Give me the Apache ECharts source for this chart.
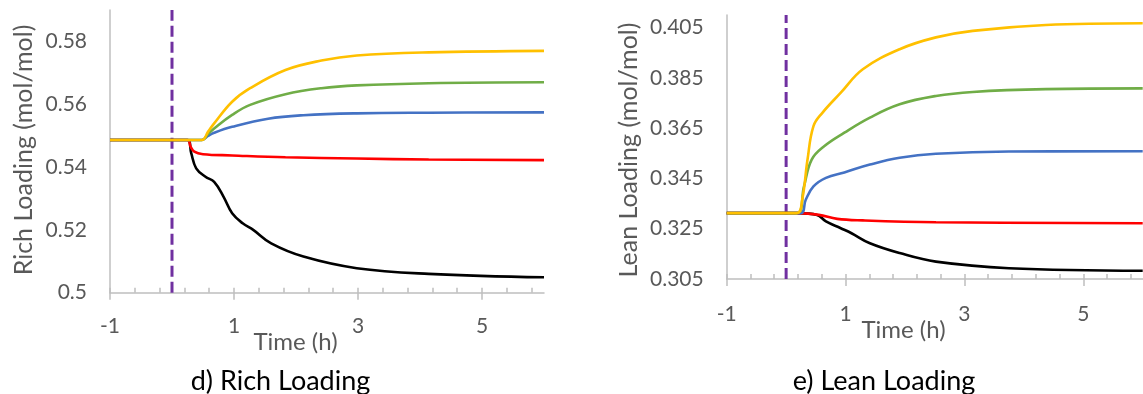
<!DOCTYPE html>
<html>
<head>
<meta charset="utf-8">
<script src="https://cdn.jsdelivr.net/npm/echarts@6/dist/echarts.min.js"></script>
<style>html,body{margin:0;padding:0;background:#fff}#c{width:1143px;height:394px}</style>
</head>
<body>
<div id="c"></div>
<script>
// ---- data (time in h, loading in mol/mol) ----
const eventTime = 0;
const xLabelTicks = [-1, 1, 3, 5];
const xMinorTicks = [-1, -0.6, -0.2, 0.2, 0.6, 1, 1.4, 1.8, 2.2, 2.6, 3, 3.4, 3.8, 4.2, 4.6, 5, 5.4, 5.8];

const richYellow = [[-1,0.5486],[0.48,0.5486],[0.58,0.5512],[0.68,0.5539],[0.97,0.5608],[1.26,0.5651],[1.83,0.5709],[2.41,0.5739],[2.98,0.5755],[4.14,0.5765],[6,0.5770]];
const richGreen  = [[-1,0.5486],[0.48,0.5486],[0.58,0.5505],[0.68,0.5523],[0.97,0.5566],[1.26,0.5598],[1.83,0.5632],[2.41,0.5651],[2.98,0.5660],[4.14,0.5667],[6,0.5670]];
const richBlue   = [[-1,0.5486],[0.48,0.5486],[0.58,0.5499],[0.68,0.5509],[0.97,0.5528],[1.55,0.5554],[2.12,0.5565],[2.98,0.5571],[4.14,0.5573],[6,0.5574]];
const richRed    = [[-1,0.5486],[0.25,0.5486],[0.30,0.5465],[0.36,0.5449],[0.50,0.5441],[0.97,0.5437],[1.83,0.5431],[2.98,0.5427],[4.14,0.5424],[6,0.5422]];
const richBlack  = [[-1,0.5486],[0.25,0.5486],[0.31,0.5444],[0.39,0.5396],[0.54,0.5369],[0.68,0.5353],[0.83,0.5306],[0.97,0.5253],[1.14,0.5221],[1.31,0.5200],[1.60,0.5157],[2.12,0.5115],[2.98,0.5078],[4.14,0.5060],[6,0.5049]];

const leanYellow = [[-1,0.3312],[0.18,0.3312],[0.27,0.3365],[0.36,0.3525],[0.46,0.3658],[0.61,0.3711],[0.92,0.3791],[1.29,0.3884],[1.91,0.3964],[2.52,0.4011],[3.14,0.4037],[4.37,0.4060],[6,0.4067]];
const leanGreen  = [[-1,0.3312],[0.18,0.3312],[0.30,0.3418],[0.43,0.3525],[0.64,0.3578],[0.98,0.3632],[1.41,0.3692],[1.91,0.3745],[2.52,0.3778],[3.14,0.3794],[4.37,0.3805],[6,0.3808]];
const leanBlue   = [[-1,0.3312],[0.24,0.3312],[0.33,0.3365],[0.46,0.3418],[0.67,0.3452],[0.98,0.3474],[1.41,0.3505],[1.91,0.3532],[2.52,0.3548],[3.75,0.3557],[6,0.3558]];
const leanRed    = [[-1,0.3312],[0.21,0.3312],[0.55,0.3305],[0.86,0.3289],[1.29,0.3283],[2.52,0.3276],[6,0.3272]];
const leanBlack  = [[-1,0.3312],[0.21,0.3312],[0.52,0.3305],[0.67,0.3279],[0.92,0.3252],[1.10,0.3232],[1.41,0.3192],[1.91,0.3153],[2.52,0.3119],[3.75,0.3093],[6,0.3083]];

const richRange = [0.5, 0.59];
const leanRange = [0.305, 0.41];

// ---- styling ----
const FONT = 'Lato';
const AXIS_C = '#BFBFBF';
const TXT_C = '#595959';
const COLORS = {yellow:'#FFC000', green:'#70AD47', blue:'#4472C4', red:'#FF0000', black:'#000000'};

function xAxes(gridIndex, labelMargin) {
  return [
    { type:'value', gridIndex, min:-1, max:6, position:'bottom',
      axisLine:{show:true, onZero:false, lineStyle:{color:AXIS_C, width:1.5}},
      axisTick:{show:true, inside:true, length:5, customValues:xMinorTicks, lineStyle:{color:AXIS_C, width:1.5}},
      axisLabel:{show:true, customValues:xLabelTicks, margin:labelMargin, color:TXT_C, fontSize:21, fontFamily:FONT},
      splitLine:{show:false} },
    { type:'value', gridIndex, min:-1, max:6, position:'bottom',
      axisLine:{show:false, onZero:false},
      axisTick:{show:true, inside:false, length:7, customValues:xLabelTicks, lineStyle:{color:AXIS_C, width:1.5}},
      axisLabel:{show:false}, splitLine:{show:false} }
  ];
}
function yAxis(gridIndex, range) {
  return { type:'value', gridIndex, min:range[0], max:range[1], interval:0.02,
    axisLine:{show:true, onZero:false, lineStyle:{color:AXIS_C, width:1.5}},
    axisTick:{show:false}, splitLine:{show:false},
    axisLabel:{showMaxLabel:false, margin:23, color:TXT_C, fontSize:21, fontFamily:FONT} };
}
function lineSeries(xi, yi, data, color) {
  return { type:'line', xAxisIndex:xi, yAxisIndex:yi, data, smooth:0.4,
    showSymbol:false, symbol:'none', lineStyle:{color, width:2.6}, silent:true, animation:false };
}
function eventSeries(xi, yi, range) {
  return { type:'line', xAxisIndex:xi, yAxisIndex:yi, data:[[eventTime, range[0]],[eventTime, range[1]]],
    symbol:'none', lineStyle:{color:'#7030A0', width:3, type:[11,5]}, silent:true, animation:false, z:1 };
}
function txt(x, y, text, size, color, rot) {
  return { type:'text', x, y, rotation: rot || 0,
    style:{ text, fontSize:size, fontFamily:FONT, fill:color, align:'center', verticalAlign:'middle' } };
}

const chart = echarts.init(document.getElementById('c'), null, {renderer:'canvas'});
chart.setOption({
  animation:false,
  backgroundColor:'#ffffff',
  grid:[
    {left:110, top:10, width:434, height:282.7},
    {left:726.7, top:15, width:416, height:264}
  ],
  xAxis:[...xAxes(0, 23), ...xAxes(1, 25)],
  yAxis:[yAxis(0, richRange), yAxis(1, leanRange)],
  series:[
    eventSeries(0, 0, richRange),
    lineSeries(0, 0, richBlack, COLORS.black),
    lineSeries(0, 0, richRed, COLORS.red),
    lineSeries(0, 0, richBlue, COLORS.blue),
    lineSeries(0, 0, richGreen, COLORS.green),
    lineSeries(0, 0, richYellow, COLORS.yellow),
    eventSeries(2, 1, leanRange),
    lineSeries(2, 1, leanBlack, COLORS.black),
    lineSeries(2, 1, leanRed, COLORS.red),
    lineSeries(2, 1, leanBlue, COLORS.blue),
    lineSeries(2, 1, leanGreen, COLORS.green),
    lineSeries(2, 1, leanYellow, COLORS.yellow)
  ],
  graphic:[
    txt(24, 150, 'Rich Loading (mol/mol)', 25, TXT_C, Math.PI/2),
    txt(629, 150, 'Lean Loading (mol/mol)', 25, TXT_C, Math.PI/2),
    txt(295.5, 342, 'Time (h)', 24, TXT_C),
    txt(903.5, 330, 'Time (h)', 24, TXT_C),
    txt(280.5, 381, 'd) Rich Loading', 27, '#000000'),
    txt(884, 381, 'e) Lean Loading', 27, '#000000')
  ]
});
</script>
</body>
</html>
